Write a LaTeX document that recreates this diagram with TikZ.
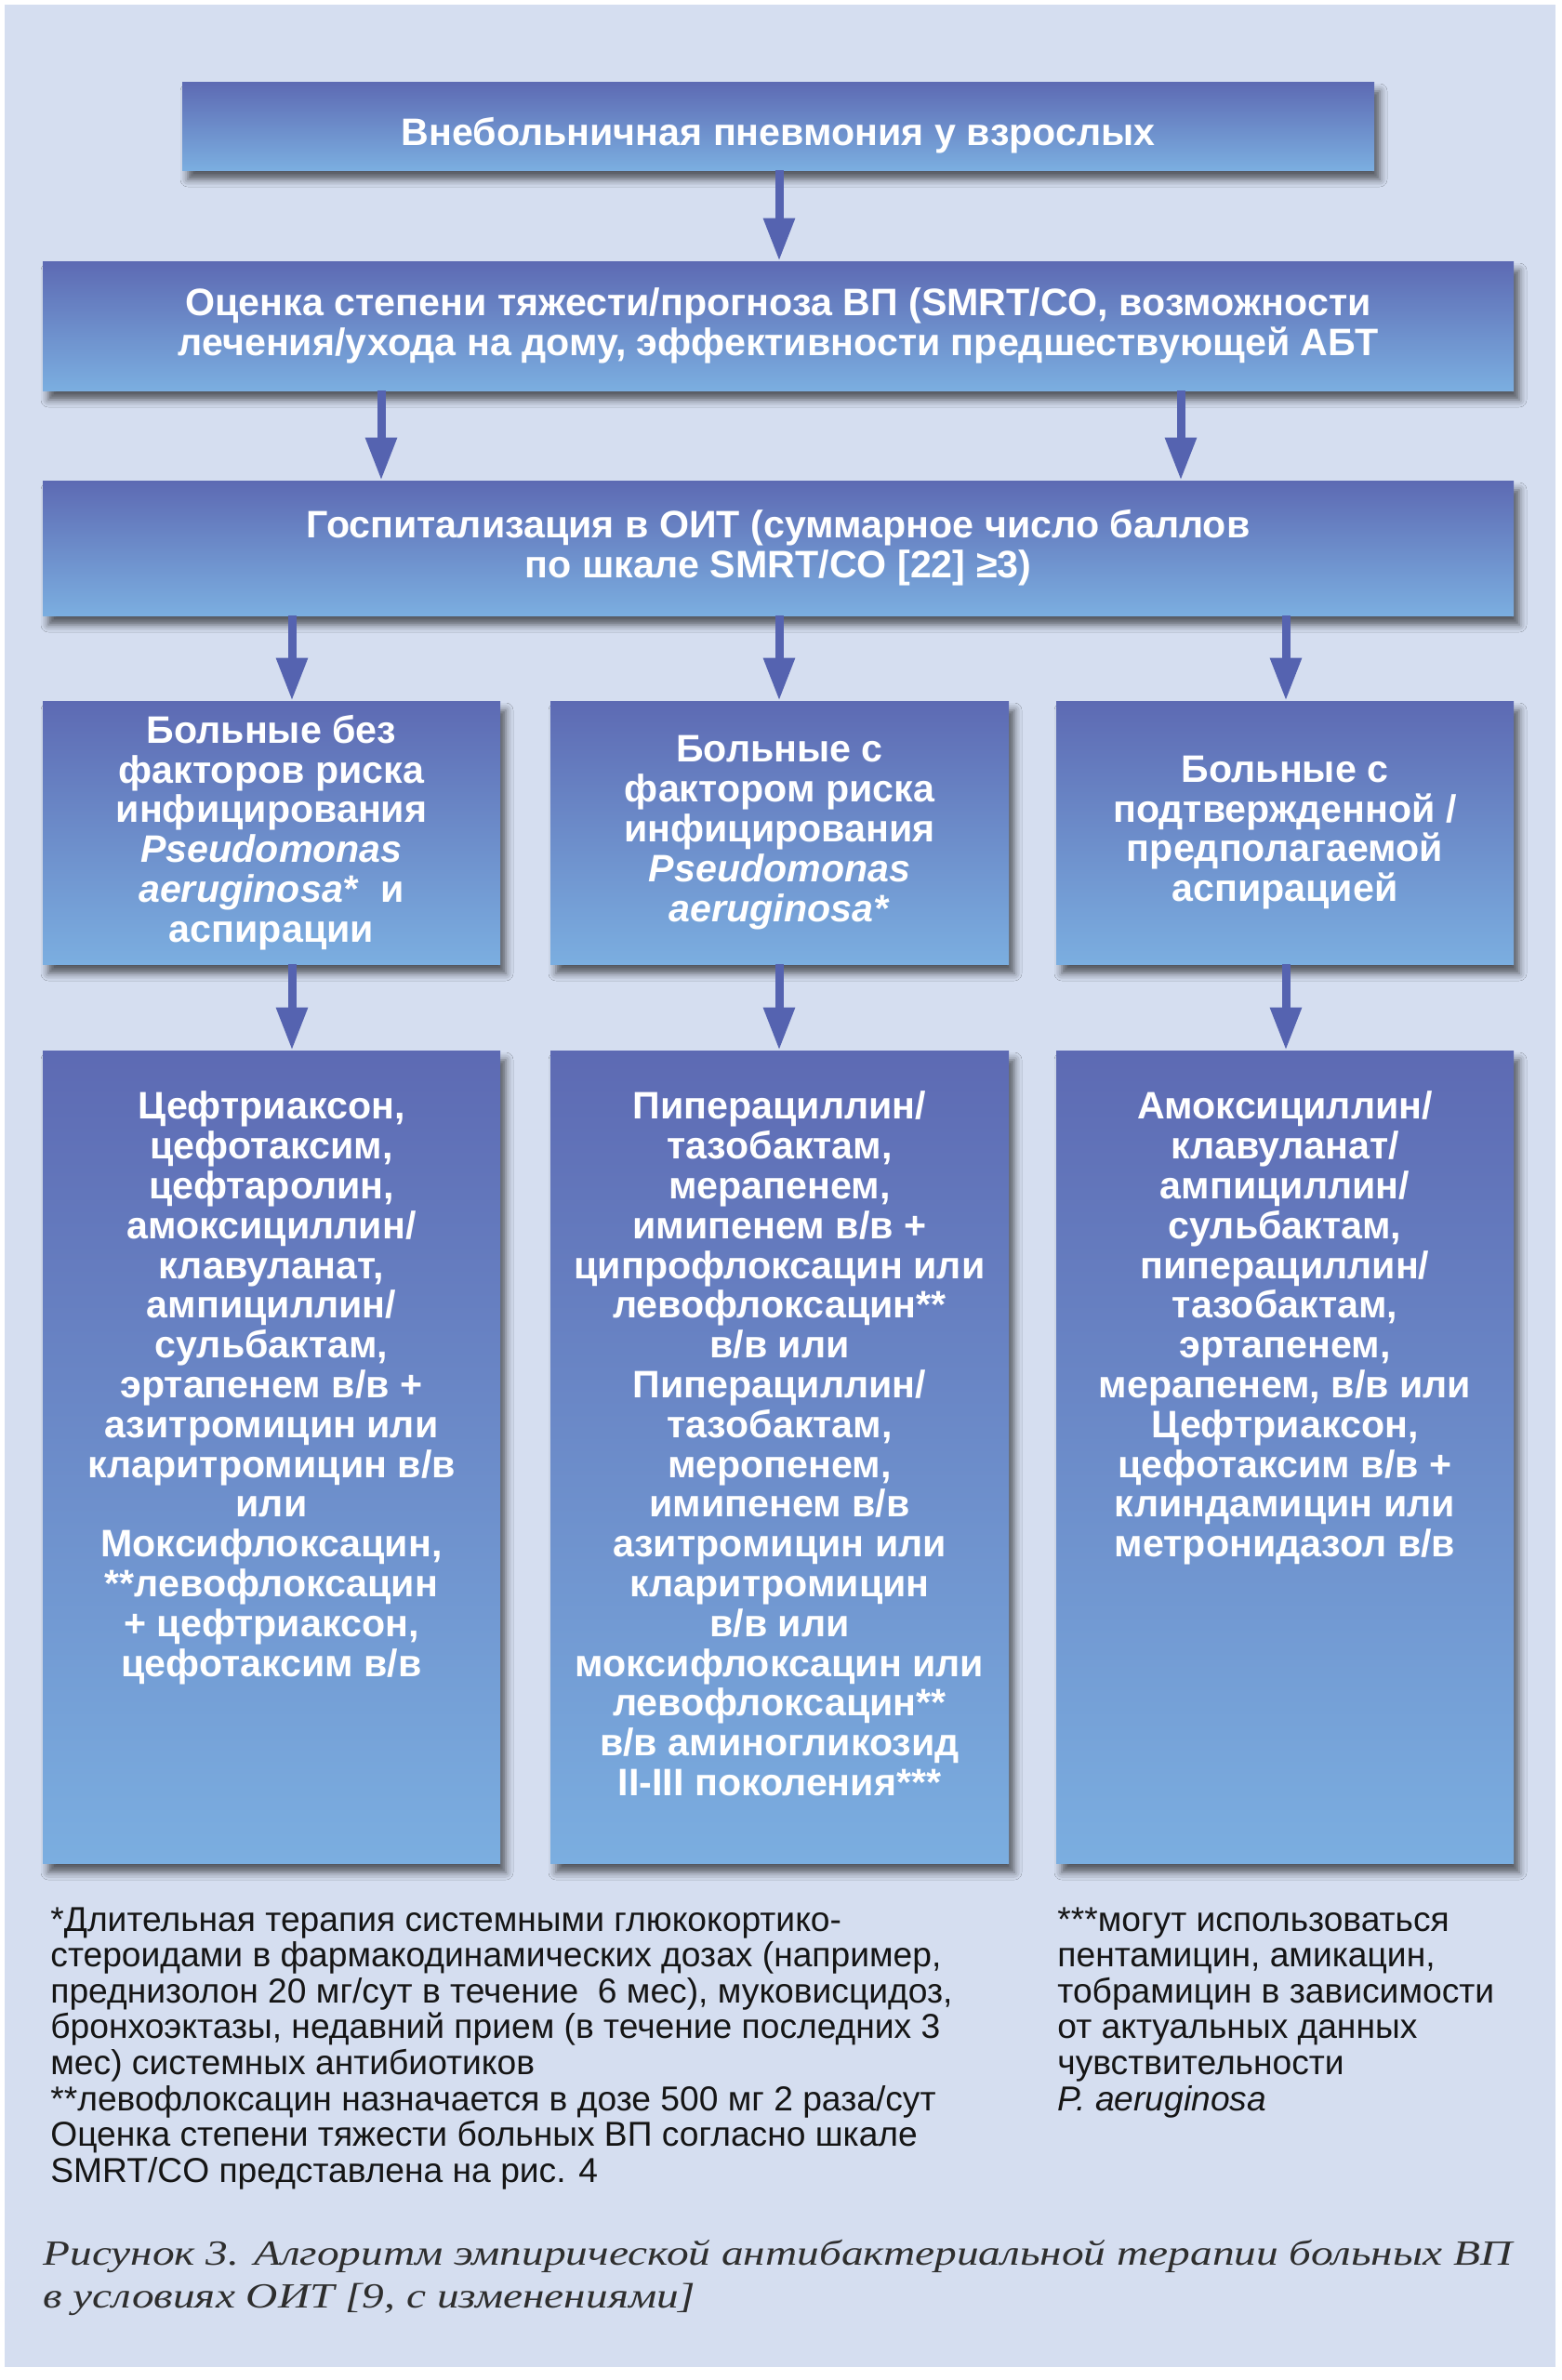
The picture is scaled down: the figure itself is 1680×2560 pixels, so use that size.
\documentclass[tikz,border=0pt]{standalone}
\usepackage{fontspec}
\usepackage{graphicx}
\setmainfont{Liberation Sans}
\newfontfamily\capfont{Liberation Serif}
\usetikzlibrary{arrows.meta,shadows.blur}
\definecolor{bgc}{HTML}{D5DEF0}
\definecolor{boxtop}{HTML}{5D6AB3}
\definecolor{boxbot}{HTML}{7BAEE0}
\definecolor{arrc}{HTML}{5563B0}
\definecolor{notec}{HTML}{151515}
\definecolor{capc}{HTML}{2E2E2E}
\tikzset{
  flowbox/.style={rectangle, inner sep=0pt, top color=boxtop, bottom color=boxbot,
    blur shadow={shadow xshift=3pt, shadow yshift=-5pt, shadow blur radius=4pt, shadow opacity=60},
    text=white, align=center, font=\bfseries\fontsize{20.6}{21.4}\selectfont},
  boxtext/.style={inner sep=0pt, text=white, align=center, font=\bfseries\fontsize{20.6}{21.4}\selectfont},
  arr/.style={draw=arrc, line width=4.5pt, -{Triangle[length=23pt,width=16pt]}},
  notetext/.style={inner sep=0pt, text=notec, align=left, font=\fontsize{18.6}{19.3}\selectfont},
}
\begin{document}
\begin{tikzpicture}[x=0.5pt,y=-0.5pt]
\useasboundingbox (0,0) rectangle (1680,2560);
\fill[white] (0,0) rectangle (1680,2560);
\fill[bgc] (5,5) rectangle (1673,2546);

% main boxes
\node[flowbox, minimum width=641pt, minimum height=47.5pt, text height=25pt, text depth=4.3pt] (b1) at (837,135.5)
  {Внебольничная пневмония у взрослых};
\node[flowbox, minimum width=791pt, minimum height=69.5pt] (b2) at (837,350.5)
  {Оценка степени тяжести/прогноза ВП (SMRT/CO, возможности\\лечения/ухода на дому, эффективности предшествующей АБТ};
\node[flowbox, minimum width=791pt, minimum height=72.5pt] (b3) at (837,589.5)
  {Госпитализация в ОИТ (суммарное число баллов\\по шкале SMRT/CO [22] ≥3)};

% row boxes
\node[flowbox, minimum width=246pt, minimum height=141.5pt] (r1) at (292,895.5)
  {Больные без\\факторов риска\\инфицирования\\\textit{Pseudomonas}\\\textit{aeruginosa*}~ и\\аспирации};
\node[flowbox, minimum width=246.5pt, minimum height=141.5pt] (r2) at (838.5,895.5)
  {Больные с\\фактором риска\\инфицирования\\\textit{Pseudomonas}\\\textit{aeruginosa*}};
\node[flowbox, minimum width=246pt, minimum height=141.5pt] (r3) at (1382,895.5)
  {Больные с\\подтвержденной /\\предполагаемой\\аспирацией};

% big boxes
\node[flowbox, minimum width=246pt, minimum height=437pt] (g1) at (292,1567) {};
\node[flowbox, minimum width=246.5pt, minimum height=437pt] (g2) at (838.5,1567) {};
\node[flowbox, minimum width=246pt, minimum height=437pt] (g3) at (1382,1567) {};

\node[boxtext, anchor=north] (t1) at ([yshift=-22pt]g1.north)
  {Цефтриаксон,\\цефотаксим,\\цефтаролин,\\амоксициллин/\\клавуланат,\\ампициллин/\\сульбактам,\\эртапенем в/в +\\азитромицин или\\кларитромицин в/в\\или\\Моксифлоксацин,\\**левофлоксацин\\+ цефтриаксон,\\цефотаксим в/в};
\node[boxtext, anchor=north] (t2) at ([yshift=-22pt]g2.north)
  {Пиперациллин/\\тазобактам,\\мерапенем,\\имипенем в/в +\\ципрофлоксацин или\\левофлоксацин**\\в/в или\\Пиперациллин/\\тазобактам,\\меропенем,\\имипенем в/в\\азитромицин или\\кларитромицин\\в/в или\\моксифлоксацин или\\левофлоксацин**\\в/в аминогликозид\\II-III поколения***};
\node[boxtext, anchor=north] (t3) at ([yshift=-22pt]g3.north)
  {Амоксициллин/\\клавуланат/\\ампициллин/\\сульбактам,\\пиперациллин/\\тазобактам,\\эртапенем,\\мерапенем, в/в или\\Цефтриаксон,\\цефотаксим в/в +\\клиндамицин или\\метронидазол в/в};

% arrow columns
\coordinate (cx) at (838,0);
\coordinate (bx1) at (410,0);
\coordinate (bx2) at (1270,0);
\coordinate (ax1) at (314,0);
\coordinate (ax2) at (838,0);
\coordinate (ax3) at (1383,0);

\draw[arr] (b1.south -| cx) -- (b2.north -| cx);
\draw[arr] (b2.south -| bx1) -- (b3.north -| bx1);
\draw[arr] (b2.south -| bx2) -- (b3.north -| bx2);
\draw[arr] (b3.south -| ax1) -- (r1.north -| ax1);
\draw[arr] (b3.south -| ax2) -- (r2.north -| ax2);
\draw[arr] (b3.south -| ax3) -- (r3.north -| ax3);
\draw[arr] (r1.south -| ax1) -- (g1.north -| ax1);
\draw[arr] (r2.south -| ax2) -- (g2.north -| ax2);
\draw[arr] (r3.south -| ax3) -- (g3.north -| ax3);

% footnotes
\node[notetext, anchor=north west] (n1) at (54,2051)
  {*Длительная терапия системными глюкокортико-\\стероидами в фармакодинамических дозах (например,\\преднизолон 20 мг/сут в течение~ 6 мес), муковисцидоз,\\бронхоэктазы, недавний прием (в течение последних 3\\мес) системных антибиотиков\\**левофлоксацин назначается в дозе 500 мг 2 раза/сут\\Оценка степени тяжести больных ВП согласно шкале\\SMRT/CO представлена на рис. 4};
\node[notetext, anchor=north west] (n2) at (1137,2051)
  {***могут использоваться\\пентамицин, амикацин,\\тобрамицин в зависимости\\от актуальных данных\\чувствительности\\\textit{P. aeruginosa}};

% caption
\node[inner sep=0pt, anchor=north west, text=capc] (cap) at (46,2404)
  {\resizebox{790pt}{\height}{\capfont\itshape\fontsize{19}{23}\selectfont
   \begin{tabular}{@{}l@{}}Рисунок 3. Алгоритм эмпирической антибактериальной терапии больных ВП\\в условиях ОИТ [9, с изменениями]\end{tabular}}};
\end{tikzpicture}
\end{document}
